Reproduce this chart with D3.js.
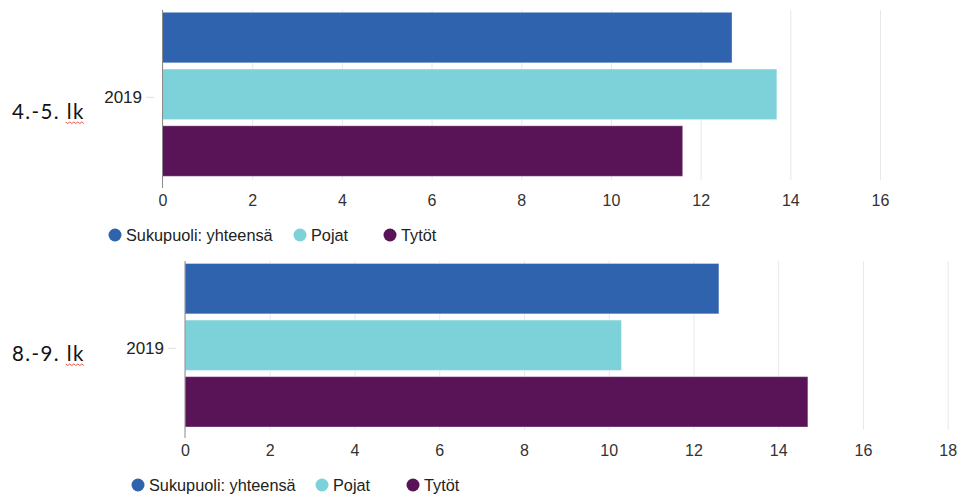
<!DOCTYPE html>
<html>
<head>
<meta charset="utf-8">
<script src="https://cdn.jsdelivr.net/npm/d3@7"></script>
<style>
  body { margin: 0; background: #fff; }
  svg { display: block; }
  .tick text { font-family: "Liberation Sans", Arial, sans-serif; }
</style>
</head>
<body>
<div id="chart"></div>
<script>
// data
var series = ["Sukupuoli: yhteensä", "Pojat", "Tytöt"];
var years = ["2019"];
var groups = ["4.-5. lk", "8.-9. lk"];
var values45 = [12.7, 13.7, 11.6];
var values89 = [12.6, 10.3, 14.7];
var ticks45 = [0, 2, 4, 6, 8, 10, 12, 14, 16];
var ticks89 = [0, 2, 4, 6, 8, 10, 12, 14, 16, 18];

var colors = ["#3063ad", "#7dd1d9", "#581457"];

var width = 959, height = 494;

var svg = d3.select("#chart").append("svg")
    .attr("width", width)
    .attr("height", height);

// layout for each panel
var panels = [
    { label: groups[0], values: values45, ticks: ticks45,
      x0: 162.5, x1: 880, top: 10, barTop: 12.3, barBottom: 176.3, axisBottom: 188,
      tickY: 200, legendY: 235, legendX: [115, 300, 390], labelY: 119, yearX: 142, tickX: [146, 154] },
    { label: groups[1], values: values89, ticks: ticks89,
      x0: 185, x1: 947.7, top: 261, barTop: 263.5, barBottom: 427, axisBottom: 438,
      tickY: 450, legendY: 485, legendX: [138, 322, 413], labelY: 361, yearX: 164, tickX: [168, 176] }
];

panels.forEach(function (p) {
    var g = svg.append("g");

    var x = d3.scaleLinear()
        .domain([0, p.ticks[p.ticks.length - 1]])
        .range([p.x0, p.x1]);

    var y = d3.scaleBand()
        .domain(series)
        .range([p.barTop, p.barBottom])
        .paddingInner(0.11)
        .paddingOuter(0);

    var yYear = d3.scaleBand()
        .domain(years)
        .range([p.barTop, p.barBottom]);

    // gridlines + tick labels
    var xAxis = d3.axisBottom(x)
        .tickValues(p.ticks)
        .tickSize(-(p.axisBottom - p.top) + 8)
        .tickPadding(10)
        .tickFormat(d3.format("d"));

    var ax = g.append("g")
        .attr("transform", "translate(0," + (p.axisBottom - 8) + ")")
        .call(xAxis);
    ax.select(".domain").remove();
    ax.selectAll(".tick line")
        .attr("stroke", "#e8e8e8")
        .attr("stroke-width", 1);
    ax.selectAll(".tick text")
        .attr("y", p.tickY - p.axisBottom + 8 + 6)
        .attr("dy", 0)
        .attr("fill", "#333")
        .style("font-size", "16px");

    // bars
    g.selectAll("rect.bar")
        .data(p.values)
        .enter().append("rect")
        .attr("class", "bar")
        .attr("x", x(0))
        .attr("y", function (d, i) { return y(series[i]); })
        .attr("width", function (d) { return x(d) - x(0); })
        .attr("height", y.bandwidth())
        .attr("fill", function (d, i) { return colors[i]; })
        .attr("stroke", "rgba(255,255,255,0.35)")
        .attr("stroke-width", 1);

    // value axis base line (vertical)
    g.append("line")
        .attr("x1", x(0)).attr("x2", x(0))
        .attr("y1", p.top).attr("y2", p.axisBottom)
        .attr("stroke", "#8a8a8a")
        .attr("stroke-width", 1);

    // year category label and small tick
    years.forEach(function (yr) {
        var cy = yYear(yr) + yYear.bandwidth() / 2 + 3;
        g.append("line")
            .attr("x1", p.tickX[0]).attr("x2", p.tickX[1])
            .attr("y1", cy).attr("y2", cy)
            .attr("stroke", "#e0e0e0");
        g.append("text")
            .attr("x", p.yearX)
            .attr("y", cy)
            .attr("dy", "0.35em")
            .attr("text-anchor", "end")
            .attr("fill", "#222")
            .style("font-family", "'Liberation Sans', Arial, sans-serif")
            .style("font-size", "17px")
            .text(yr);
    });

    // group label on the left, with the spell-check squiggle under "lk"
    var lbl = g.append("text")
        .attr("x", 12)
        .attr("y", p.labelY)
        .attr("fill", "#111")
        .style("font-family", "Lato, 'Open Sans', sans-serif")
        .style("font-size", "20.5px")
        .style("letter-spacing", "1.4px")
        .text(p.label);
    var bb = lbl.node().getBBox();
    var sx1 = bb.x + bb.width - 1, sx0 = sx1 - 18, sy = p.labelY + 3;
    var pts = [];
    for (var sx = sx0, k = 0; sx <= sx1; sx += 2, k++) {
        pts.push([sx, sy + (k % 2 ? 1.5 : 0)]);
    }
    g.append("path")
        .attr("d", d3.line()(pts))
        .attr("fill", "none")
        .attr("stroke", "#e0453a")
        .attr("stroke-width", 0.9);

    // legend
    var lg = g.selectAll("g.legend")
        .data(series)
        .enter().append("g")
        .attr("class", "legend")
        .attr("transform", function (d, i) { return "translate(" + p.legendX[i] + "," + p.legendY + ")"; });
    lg.append("circle")
        .attr("r", 6.5)
        .attr("fill", function (d, i) { return colors[i]; });
    lg.append("text")
        .attr("x", 11)
        .attr("dy", "0.35em")
        .attr("fill", "#222")
        .style("font-family", "'Liberation Sans', Arial, sans-serif")
        .style("font-size", "16.3px")
        .text(function (d) { return d; });
});
</script>
</body>
</html>
